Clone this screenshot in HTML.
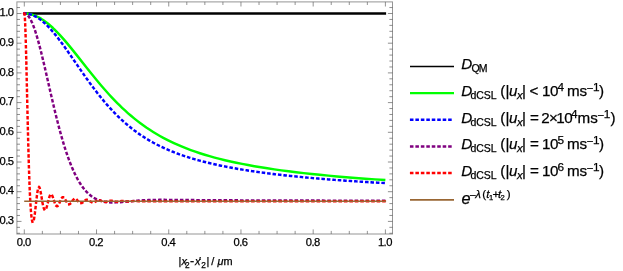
<!DOCTYPE html><html><head><meta charset="utf-8"><style>html,body{margin:0;padding:0;background:#fff;}svg{display:block}text{font-family:"Liberation Sans",sans-serif;fill:#000;stroke:#000;stroke-width:0.25px}svg{will-change:transform;opacity:0.999}.i{font-style:italic}</style></head><body>
<svg width="623" height="271" viewBox="0 0 623 271">
<rect width="623" height="271" fill="#fff"/>
<clipPath id="c"><rect x="16.9" y="1.9" width="375.6" height="232.1"/></clipPath>
<g clip-path="url(#c)" fill="none" stroke-linejoin="round">
<path d="M24.30,13.5 L386.10,13.5" stroke="#000" stroke-width="2.45"/>
<path d="M24.30,13.50 L25.75,13.54 L27.19,13.66 L28.64,13.86 L30.32,14.19 L31.77,14.55 L33.45,15.08 L34.90,15.61 L36.59,16.33 L38.03,17.02 L39.72,17.92 L41.40,18.91 L43.09,20.00 L44.78,21.17 L46.46,22.43 L48.15,23.77 L49.83,25.19 L51.28,26.47 L52.97,28.02 L54.65,29.64 L56.34,31.33 L58.03,33.07 L59.95,35.13 L63.57,39.17 L67.42,43.67 L71.52,48.64 L76.33,54.64 L86.69,67.75 L91.51,73.78 L96.57,79.99 L101.15,85.44 L103.79,88.52 L106.44,91.52 L109.09,94.46 L111.74,97.33 L114.39,100.11 L117.04,102.82 L119.69,105.45 L122.10,107.78 L124.99,110.47 L128.13,113.29 L131.02,115.79 L134.15,118.39 L137.28,120.89 L140.41,123.28 L143.54,125.57 L146.67,127.76 L149.81,129.85 L153.18,132.00 L156.55,134.05 L159.92,136.00 L163.30,137.86 L166.67,139.63 L170.28,141.43 L173.90,143.14 L177.99,144.98 L182.09,146.72 L186.42,148.45 L190.76,150.08 L195.33,151.70 L199.91,153.23 L204.73,154.74 L209.55,156.16 L214.61,157.57 L219.66,158.89 L224.96,160.20 L230.51,161.48 L236.29,162.73 L242.07,163.91 L248.09,165.07 L254.35,166.19 L260.86,167.29 L267.36,168.33 L274.35,169.37 L281.33,170.35 L288.56,171.30 L296.03,172.22 L303.74,173.12 L311.69,173.98 L319.88,174.82 L328.31,175.64 L336.98,176.42 L346.13,177.20 L355.53,177.95 L365.16,178.67 L375.04,179.37 L385.40,180.05" stroke="#00ff00" stroke-width="2.45"/>
<path d="M24.30,13.50 L25.75,13.55 L27.43,13.74 L28.88,14.01 L30.56,14.46 L32.01,14.94 L33.69,15.64 L35.14,16.34 L36.83,17.27 L38.27,18.17 L39.96,19.34 L41.64,20.62 L43.33,22.01 L45.02,23.51 L46.70,25.12 L48.39,26.82 L50.32,28.87 L53.21,32.16 L56.10,35.67 L59.23,39.68 L62.36,43.87 L65.25,47.87 L68.62,52.64 L80.91,70.42 L86.21,77.96 L89.10,81.99 L91.75,85.60 L94.40,89.14 L96.81,92.28 L99.70,95.95 L102.35,99.21 L105.24,102.65 L107.89,105.70 L110.54,108.64 L113.19,111.48 L115.84,114.21 L118.73,117.07 L121.14,119.36 L123.79,121.78 L126.20,123.89 L128.85,126.12 L131.50,128.26 L134.15,130.31 L136.80,132.27 L139.45,134.14 L142.10,135.93 L144.99,137.79 L147.64,139.42 L150.53,141.12 L153.42,142.74 L156.55,144.40 L159.44,145.87 L162.57,147.37 L166.67,149.23 L170.76,150.98 L175.10,152.70 L179.44,154.32 L184.01,155.91 L188.59,157.40 L193.41,158.87 L198.23,160.24 L203.28,161.59 L208.58,162.92 L214.12,164.21 L219.91,165.47 L225.69,166.64 L231.71,167.79 L237.97,168.90 L244.48,169.98 L251.22,171.03 L258.21,172.04 L265.43,173.02 L272.90,173.97 L280.61,174.88 L288.56,175.76 L296.75,176.60 L305.42,177.44 L314.34,178.24 L323.49,179.02 L332.89,179.75 L342.76,180.48 L352.88,181.17 L363.24,181.84 L374.08,182.49 L385.40,183.12" stroke="#0000ff" stroke-width="2.45" stroke-dasharray="1.1 4.36" stroke-linecap="square"/>
<path d="M24.30,13.50 L24.93,13.56 L25.31,13.66 L25.69,13.80 L26.32,14.14 L27.08,14.70 L27.71,15.31 L28.47,16.19 L29.23,17.25 L29.99,18.47 L30.75,19.85 L31.50,21.39 L32.26,23.09 L33.02,24.93 L33.78,26.92 L34.54,29.04 L35.29,31.29 L36.18,34.07 L37.44,38.31 L38.83,43.30 L40.35,49.08 L41.87,55.15 L44.90,67.93 L50.97,94.44 L53.62,105.82 L56.53,117.78 L59.18,128.09 L60.70,133.68 L62.21,139.04 L63.73,144.15 L65.12,148.61 L66.64,153.23 L68.03,157.24 L69.54,161.37 L71.06,165.24 L72.58,168.86 L74.22,172.51 L75.86,175.89 L77.50,178.99 L79.15,181.84 L80.92,184.64 L82.56,186.99 L84.33,189.27 L86.10,191.32 L87.87,193.13 L88.75,193.96 L89.76,194.84 L90.65,195.57 L91.66,196.33 L92.67,197.04 L93.68,197.69 L94.69,198.28 L95.70,198.83 L96.71,199.33 L97.85,199.83 L98.86,200.23 L100.00,200.63" stroke="#800080" stroke-width="2.45" stroke-dasharray="1.1 4.36" stroke-linecap="square"/>
<path d="M100.00,200.63 L101.43,201.06 L102.86,201.43 L104.29,201.72 L106.07,202.01 L107.50,202.18 L109.29,202.33 L111.07,202.41 L112.86,202.44 L116.07,202.37 L120.00,202.15 L123.57,201.86 L135.01,200.84 L138.93,200.54 L142.51,200.32 L146.44,200.13 L150.36,199.99 L154.65,199.89 L159.29,199.84 L170.37,199.86 L194.66,200.09 L210.02,200.21 L245.38,200.38 L306.82,200.57 L385.40,200.71" stroke="#800080" stroke-width="2.45" stroke-dasharray="1.1 4.36" stroke-linecap="square" stroke-dashoffset="0.534"/>
<path d="M24.30,13.50 L24.38,13.58 L24.45,13.81 L24.63,14.97 L24.78,16.63 L24.96,19.32 L25.31,26.98 L25.66,37.33 L26.32,61.93 L27.63,119.07 L28.24,143.66 L28.87,165.93 L29.50,184.20 L29.83,192.10 L30.18,199.42 L30.53,205.59 L30.89,210.66 L31.24,214.71 L31.62,218.02 L32.00,220.33 L32.20,221.18 L32.40,221.79 L32.58,222.13 L32.68,222.24 L32.78,222.30 L32.88,222.30 L32.98,222.25 L33.19,222.00 L33.39,221.56 L33.61,220.83 L34.04,218.88 L34.47,216.26 L34.93,212.90 L36.64,197.90 L37.02,194.87 L37.38,192.37 L37.78,190.02 L38.16,188.38 L38.36,187.75 L38.54,187.35 L38.71,187.07 L38.91,186.93 L39.07,186.93 L39.22,187.04 L39.37,187.23 L39.55,187.57 L39.90,188.58 L40.25,189.97 L40.91,193.34 L42.52,202.84 L42.98,205.13 L43.38,206.85 L43.79,208.22 L44.17,209.17 L44.37,209.54 L44.54,209.78 L44.72,209.94 L44.92,210.04 L45.07,210.05 L45.25,209.99 L45.40,209.89 L45.58,209.70 L45.93,209.13 L46.29,208.32 L46.66,207.22 L47.07,205.83 L48.71,199.28 L49.09,197.89 L49.42,196.83 L49.82,195.74 L50.20,194.97 L50.40,194.68 L50.58,194.48 L50.75,194.35 L50.96,194.28 L51.11,194.28 L51.28,194.34 L51.46,194.45 L51.64,194.63 L52.02,195.18 L52.39,195.96 L53.08,197.77 L54.69,202.71 L55.12,203.84 L55.52,204.73 L55.88,205.37 L56.23,205.84 L56.58,206.14 L56.76,206.23 L56.94,206.27 L57.27,206.24 L57.59,206.06 L57.95,205.72 L58.30,205.24 L58.65,204.64 L59.06,203.83 L60.67,200.08 L61.38,198.66 L61.78,198.02 L62.16,197.57 L62.54,197.28 L62.89,197.16 L63.20,197.17 L63.53,197.30 L63.85,197.54 L64.18,197.88 L64.54,198.36 L64.91,198.96 L66.55,201.97 L67.29,203.13 L67.72,203.65 L68.12,204.02 L68.52,204.26 L68.90,204.35 L69.23,204.33 L69.56,204.23 L69.91,204.02 L70.27,203.72 L70.62,203.34 L71.02,202.84 L72.61,200.55 L73.32,199.67 L73.70,199.29 L74.08,199.00 L74.46,198.81 L74.81,198.72 L75.14,198.72 L75.47,198.79 L75.79,198.94 L76.15,199.17 L76.50,199.46 L76.90,199.85 L78.52,201.70 L79.25,202.43 L79.66,202.74 L80.06,202.98 L80.46,203.13 L80.84,203.19 L81.17,203.19 L81.52,203.11 L81.88,202.98 L82.23,202.79 L82.99,202.24 L84.50,200.87 L85.18,200.33 L85.56,200.08 L85.92,199.90 L86.27,199.77 L86.62,199.69 L86.98,199.67 L87.33,199.70 L87.71,199.80 L88.09,199.94 L88.87,200.38 L90.48,201.53 L91.22,201.98 L91.62,202.18 L92.00,202.32 L92.38,202.41 L92.76,202.45 L93.11,202.45 L93.49,202.40 L94.27,202.17 L95.00,201.83 L96.82,200.83 L97.35,200.59 L97.83,200.43 L98.36,200.32 L98.89,200.28 L99.42,200.32 L100.00,200.44" stroke="#ff0000" stroke-width="2.45" stroke-dasharray="1.1 4.36" stroke-linecap="square"/>
<path d="M100.00,200.44 L100.80,200.71 L102.40,201.40 L103.20,201.70 L104.00,201.90 L104.80,201.98 L105.48,201.94 L106.28,201.79 L106.97,201.59 L108.68,201.02 L109.48,200.82 L110.16,200.71 L110.85,200.67 L111.53,200.71 L112.22,200.81 L114.50,201.37 L115.30,201.54 L116.10,201.64 L116.79,201.67 L117.47,201.65 L118.27,201.55 L121.36,201.00 L122.04,200.94 L122.73,200.91 L123.41,200.93 L124.21,201.00 L127.30,201.41 L128.78,201.48 L130.15,201.42 L133.23,201.12 L134.72,201.06 L136.09,201.10 L139.29,201.33 L140.66,201.37 L142.14,201.34 L145.23,201.17 L146.60,201.14 L152.65,201.31 L158.59,201.19 L164.53,201.27 L170.58,201.22 L176.52,201.26 L182.46,201.23 L385.40,201.24" stroke="#ff0000" stroke-width="2.45" stroke-dasharray="1.1 4.36" stroke-linecap="square" stroke-dashoffset="5.339"/>
<path d="M24.20,201.24 L386.10,201.24" stroke="#996633" stroke-width="1.6"/>
</g>
<rect x="16.9" y="1.9" width="375.6" height="232.1" stroke="#959595" stroke-width="1" fill="none"/>
<path d="M24.30,234.0v-4.6M24.30,1.9v4.6M42.36,234.0v-3.1M42.36,1.9v3.1M60.41,234.0v-3.1M60.41,1.9v3.1M78.47,234.0v-3.1M78.47,1.9v3.1M96.52,234.0v-4.6M96.52,1.9v4.6M114.58,234.0v-3.1M114.58,1.9v3.1M132.63,234.0v-3.1M132.63,1.9v3.1M150.69,234.0v-3.1M150.69,1.9v3.1M168.74,234.0v-4.6M168.74,1.9v4.6M186.80,234.0v-3.1M186.80,1.9v3.1M204.85,234.0v-3.1M204.85,1.9v3.1M222.91,234.0v-3.1M222.91,1.9v3.1M240.96,234.0v-4.6M240.96,1.9v4.6M259.02,234.0v-3.1M259.02,1.9v3.1M277.07,234.0v-3.1M277.07,1.9v3.1M295.13,234.0v-3.1M295.13,1.9v3.1M313.18,234.0v-4.6M313.18,1.9v4.6M331.24,234.0v-3.1M331.24,1.9v3.1M349.29,234.0v-3.1M349.29,1.9v3.1M367.35,234.0v-3.1M367.35,1.9v3.1M385.40,234.0v-4.6M385.40,1.9v4.6" stroke="#666" stroke-width="0.7" fill="none"/>
<path d="M16.9,233.28h3.1M392.5,233.28h-3.1M16.9,227.34h3.1M392.5,227.34h-3.1M16.9,221.40h4.6M392.5,221.40h-4.6M16.9,215.46h3.1M392.5,215.46h-3.1M16.9,209.52h3.1M392.5,209.52h-3.1M16.9,203.58h3.1M392.5,203.58h-3.1M16.9,197.64h3.1M392.5,197.64h-3.1M16.9,191.70h4.6M392.5,191.70h-4.6M16.9,185.76h3.1M392.5,185.76h-3.1M16.9,179.82h3.1M392.5,179.82h-3.1M16.9,173.88h3.1M392.5,173.88h-3.1M16.9,167.94h3.1M392.5,167.94h-3.1M16.9,162.00h4.6M392.5,162.00h-4.6M16.9,156.06h3.1M392.5,156.06h-3.1M16.9,150.12h3.1M392.5,150.12h-3.1M16.9,144.18h3.1M392.5,144.18h-3.1M16.9,138.24h3.1M392.5,138.24h-3.1M16.9,132.30h4.6M392.5,132.30h-4.6M16.9,126.36h3.1M392.5,126.36h-3.1M16.9,120.42h3.1M392.5,120.42h-3.1M16.9,114.48h3.1M392.5,114.48h-3.1M16.9,108.54h3.1M392.5,108.54h-3.1M16.9,102.60h4.6M392.5,102.60h-4.6M16.9,96.66h3.1M392.5,96.66h-3.1M16.9,90.72h3.1M392.5,90.72h-3.1M16.9,84.78h3.1M392.5,84.78h-3.1M16.9,78.84h3.1M392.5,78.84h-3.1M16.9,72.90h4.6M392.5,72.90h-4.6M16.9,66.96h3.1M392.5,66.96h-3.1M16.9,61.02h3.1M392.5,61.02h-3.1M16.9,55.08h3.1M392.5,55.08h-3.1M16.9,49.14h3.1M392.5,49.14h-3.1M16.9,43.20h4.6M392.5,43.20h-4.6M16.9,37.26h3.1M392.5,37.26h-3.1M16.9,31.32h3.1M392.5,31.32h-3.1M16.9,25.38h3.1M392.5,25.38h-3.1M16.9,19.44h3.1M392.5,19.44h-3.1M16.9,13.50h4.6M392.5,13.50h-4.6M16.9,7.56h3.1M392.5,7.56h-3.1" stroke="#444" stroke-width="0.6" fill="none"/>
<text x="13.4" y="224" font-size="11.2" text-anchor="end" letter-spacing="-0.55">0.3</text>
<text x="13.4" y="194" font-size="11.2" text-anchor="end" letter-spacing="-0.55">0.4</text>
<text x="13.4" y="165" font-size="11.2" text-anchor="end" letter-spacing="-0.55">0.5</text>
<text x="13.4" y="135" font-size="11.2" text-anchor="end" letter-spacing="-0.55">0.6</text>
<text x="13.4" y="105" font-size="11.2" text-anchor="end" letter-spacing="-0.55">0.7</text>
<text x="13.4" y="76" font-size="11.2" text-anchor="end" letter-spacing="-0.55">0.8</text>
<text x="13.4" y="46" font-size="11.2" text-anchor="end" letter-spacing="-0.55">0.9</text>
<text x="13.4" y="16" font-size="11.2" text-anchor="end" letter-spacing="-0.55">1.0</text>
<text x="23.80" y="246" font-size="11.2" text-anchor="middle" letter-spacing="-0.55">0.0</text>
<text x="96.02" y="246" font-size="11.2" text-anchor="middle" letter-spacing="-0.55">0.2</text>
<text x="168.24" y="246" font-size="11.2" text-anchor="middle" letter-spacing="-0.55">0.4</text>
<text x="240.46" y="246" font-size="11.2" text-anchor="middle" letter-spacing="-0.55">0.6</text>
<text x="312.68" y="246" font-size="11.2" text-anchor="middle" letter-spacing="-0.55">0.8</text>
<text x="384.90" y="246" font-size="11.2" text-anchor="middle" letter-spacing="-0.55">1.0</text>
<g id="xl">
<text x="178.6" y="265" font-size="10.9">|</text>
<text x="181.5" y="265" font-size="10.9" class="i">x</text>
<text x="185.0" y="268" font-size="8.3">2</text>
<text x="190.0" y="265" font-size="12.5">-</text>
<text x="194.9" y="265" font-size="10.9" class="i">x</text>
<text x="199.0" y="265" font-size="10.9">′</text>
<text x="201.3" y="268" font-size="8.3">2</text>
<text x="206.4" y="265" font-size="10.9">|</text>
<text x="211.3" y="265" font-size="10.9">/</text>
<text x="217.4" y="265" font-size="10.9" class="i">μ</text>
<text x="223.6" y="265" font-size="10.9">m</text>
</g>
<path d="M410,66.5 L454,66.5" stroke="#000" stroke-width="1.6" fill="none"/>
<path d="M410,93.15 L454,93.15" stroke="#00ff00" stroke-width="2.3" fill="none"/>
<path d="M411.15,119.8 L453,119.8" stroke="#0000ff" stroke-width="2.45" stroke-dasharray="1.1 4.36" stroke-linecap="square" fill="none"/>
<path d="M411.15,146.4 L453,146.4" stroke="#800080" stroke-width="2.45" stroke-dasharray="1.1 4.36" stroke-linecap="square" fill="none"/>
<path d="M411.15,173.0 L453,173.0" stroke="#ff0000" stroke-width="2.45" stroke-dasharray="1.1 4.36" stroke-linecap="square" fill="none"/>
<path d="M410,199.9 L454,199.9" stroke="#996633" stroke-width="1.6" fill="none"/>
<text x="461.3" y="69" font-size="15.2" class="i">D</text>
<text x="471.4" y="72" font-size="10.5" letter-spacing="-0.8">QM</text>
<text x="461.3" y="96" font-size="15.2" class="i">D</text>
<text x="470.6" y="99" font-size="10.5" letter-spacing="-0.1">dCSL</text>
<text x="500.3" y="96" font-size="15.2">(</text>
<text x="505.6" y="96" font-size="15.2">|</text>
<text x="509.1" y="96" font-size="15.2" class="i">u</text>
<text x="517.0" y="99" font-size="11.5" class="i">x</text>
<text x="522.0" y="96" font-size="15.2">|</text>
<text x="529.6" y="96" font-size="15.2">&lt;</text>
<text x="541.9" y="96" font-size="15.2" letter-spacing="-0.4">10</text>
<text x="557.5" y="91" font-size="11.8">4</text>
<text x="566.9" y="96" font-size="15.2">ms</text>
<text x="587.2" y="91" font-size="10">–</text>
<text x="592.9000000000001" y="91" font-size="11.8">1</text>
<text x="598.9" y="96" font-size="15.2">)</text>
<text x="461.3" y="123" font-size="15.2" class="i">D</text>
<text x="470.6" y="126" font-size="10.5" letter-spacing="-0.1">dCSL</text>
<text x="500.3" y="123" font-size="15.2">(</text>
<text x="505.6" y="123" font-size="15.2">|</text>
<text x="509.1" y="123" font-size="15.2" class="i">u</text>
<text x="517.0" y="126" font-size="11.5" class="i">x</text>
<text x="522.0" y="123" font-size="15.2">|</text>
<text x="530.0" y="123" font-size="15.2">=</text>
<text x="541.2" y="123" font-size="15.2">2</text>
<text x="549.1" y="123" font-size="15.2">×</text>
<text x="556.3" y="123" font-size="15.2" letter-spacing="-0.4">10</text>
<text x="571.0" y="118" font-size="11.8">4</text>
<text x="577.6" y="123" font-size="15.2">ms</text>
<text x="598.0" y="118" font-size="10">–</text>
<text x="603.7" y="118" font-size="11.8">1</text>
<text x="610.6" y="123" font-size="15.2">)</text>
<text x="461.3" y="149" font-size="15.2" class="i">D</text>
<text x="470.6" y="152" font-size="10.5" letter-spacing="-0.1">dCSL</text>
<text x="500.3" y="149" font-size="15.2">(</text>
<text x="505.6" y="149" font-size="15.2">|</text>
<text x="509.1" y="149" font-size="15.2" class="i">u</text>
<text x="517.0" y="152" font-size="11.5" class="i">x</text>
<text x="522.0" y="149" font-size="15.2">|</text>
<text x="530.0" y="149" font-size="15.2">=</text>
<text x="541.9" y="149" font-size="15.2" letter-spacing="-0.4">10</text>
<text x="557.5" y="144" font-size="11.8">5</text>
<text x="566.9" y="149" font-size="15.2">ms</text>
<text x="587.2" y="144" font-size="10">–</text>
<text x="592.9000000000001" y="144" font-size="11.8">1</text>
<text x="598.9" y="149" font-size="15.2">)</text>
<text x="461.3" y="176" font-size="15.2" class="i">D</text>
<text x="470.6" y="179" font-size="10.5" letter-spacing="-0.1">dCSL</text>
<text x="500.3" y="176" font-size="15.2">(</text>
<text x="505.6" y="176" font-size="15.2">|</text>
<text x="509.1" y="176" font-size="15.2" class="i">u</text>
<text x="517.0" y="179" font-size="11.5" class="i">x</text>
<text x="522.0" y="176" font-size="15.2">|</text>
<text x="530.0" y="176" font-size="15.2">=</text>
<text x="541.9" y="176" font-size="15.2" letter-spacing="-0.4">10</text>
<text x="557.5" y="171" font-size="11.8">6</text>
<text x="566.9" y="176" font-size="15.2">ms</text>
<text x="587.2" y="171" font-size="10">–</text>
<text x="592.9000000000001" y="171" font-size="11.8">1</text>
<text x="598.9" y="176" font-size="15.2">)</text>
<text x="461.5" y="204" font-size="16.3" class="i">e</text>
<text x="469.9" y="198" font-size="10">–</text>
<text x="475.2" y="198" font-size="11.5" class="i">λ</text>
<text x="482.3" y="198" font-size="11.5">(</text>
<text x="486.3" y="198" font-size="11.5" class="i">t</text>
<text x="488.9" y="200" font-size="7.6">1</text>
<text x="492.5" y="198" font-size="11.5" letter-spacing="-0.5">+</text>
<text x="498.1" y="198" font-size="11.5" class="i">t</text>
<text x="500.4" y="200" font-size="7.6">2</text>
<text x="506.8" y="198" font-size="11.5">)</text>
</svg></body></html>
